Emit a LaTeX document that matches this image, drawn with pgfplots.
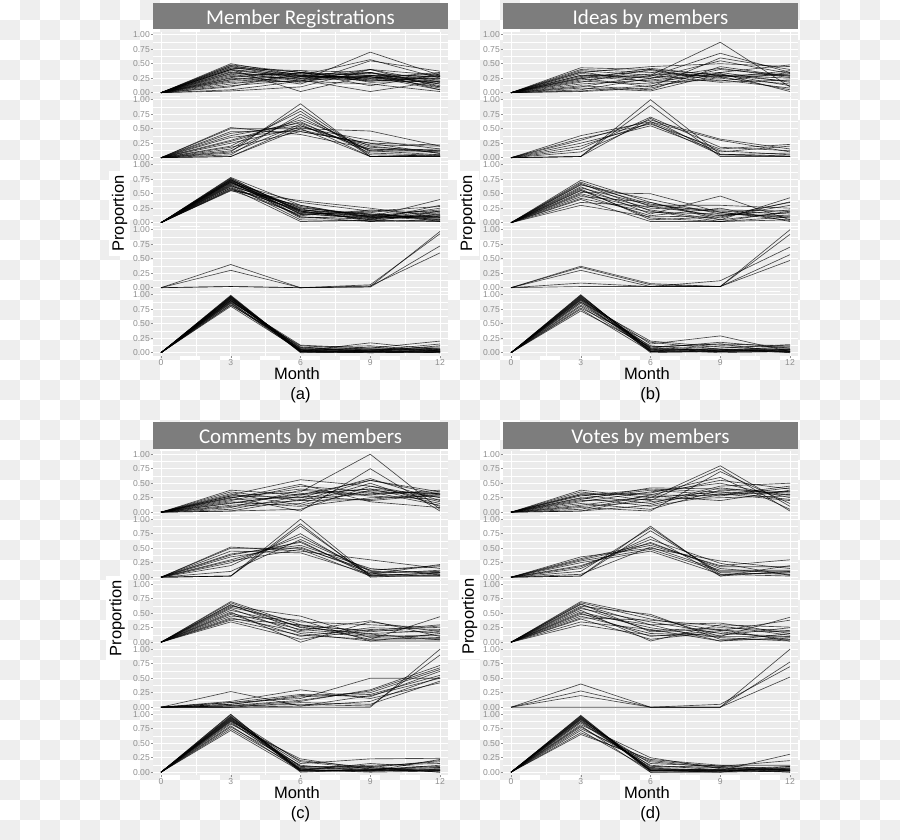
\documentclass[border=0pt]{standalone}
\usepackage{pgfplots}
\pgfplotsset{compat=1.18}
\usepackage{fontspec}
\setmainfont{Liberation Sans}
\newfontfamily\titlefont{Carlito}
\definecolor{panelbg}{HTML}{EBEBEB}
\definecolor{stripgray}{HTML}{7D7D7D}
\definecolor{tickgray}{HTML}{8F8F8F}
\definecolor{checkgray}{HTML}{EEEEEE}
\newcommand\Ln[4]{\addplot coordinates {(0,0) (3,#1) (6,#2) (9,#3) (12,#4)};}
\newcommand\lab{\fontsize{16.5}{18}\selectfont}
\pgfplotsset{
  sub/.style={
    scale only axis, width=295pt, height=63.8pt,
    xmin=-0.344, xmax=12.344, ymin=-0.05, ymax=1.05,
    anchor=south west,
    axis background/.style={fill=panelbg},
    axis line style={draw=none},
    xtick={0,3,6,9,12}, minor xtick={1.5,4.5,7.5,10.5},
    ytick={0,0.25,0.5,0.75,1}, minor ytick={0.125,0.375,0.625,0.875},
    yticklabels={0.00,0.25,0.50,0.75,1.00},
    xticklabels={},
    grid=both,
    major grid style={white, line width=0.7pt},
    minor grid style={white, line width=0.35pt},
    tick align=outside, major tick length=2.2pt, minor tick length=0pt,
    tick pos=left,
    tick style={color=tickgray, line width=0.5pt},
    xtick style={draw=none},
    ticklabel style={font=\fontsize{8.6}{9}\selectfont, text=tickgray},
    yticklabel style={inner xsep=0.8pt, inner ysep=0pt},
    cycle list={{black}},
    every axis plot/.append style={black, opacity=0.7, line width=0.65pt, mark=none},
  },
  bot/.style={
    xticklabels={0,3,6,9,12},
    xtick style={draw=tickgray},
    xticklabel style={inner ysep=0.5pt, yshift=-0.5pt},
    xlabel={Month},
    every axis x label/.style={at={(axis description cs:0.488,-0.28)}, anchor=center, font=\lab, inner sep=0pt},
    extra description/.code={\node[font=\lab, inner sep=0pt] at (axis description cs:0.5,-0.62) {(#1)};},
  },
  strip/.style={
    title={\smash{\raisebox{-8.2pt}{#1}}},
    every axis title/.style={at={(axis description cs:0.5,1)}, anchor=south, yshift=2.3pt,
      fill=stripgray, text=white, minimum width=295pt, minimum height=26.5pt, inner sep=0pt,
      font=\titlefont\fontsize{21}{23}\selectfont},
  },
  ylab/.style 2 args={
    ylabel={Proportion},
    every axis y label/.style={at={(axis description cs:#1,#2)}, anchor=center, rotate=90,
      font=\lab, fill=white, inner xsep=4pt, inner ysep=3pt},
  },
}
\begin{document}
\begin{tikzpicture}
\path[use as bounding box] (0,0) rectangle (900pt,-840pt);
\foreach \j in {0,...,41}{
  \foreach \i in {0,...,44}{
    \pgfmathtruncatemacro\p{mod(\i+\j,2)}
    \ifnum\p=1 \fill[checkgray] (\i*20pt,-\j*20pt) rectangle ++(20pt,-20pt);\fi
  }
}
% ================= (a) Member Registrations =================
\begin{axis}[sub, strip={Member Registrations}, at={(153pt,-95.6pt)}]
\Ln{.50}{.30}{.25}{.20}
\Ln{.48}{.35}{.30}{.15}
\Ln{.45}{.25}{.28}{.10}
\Ln{.42}{.38}{.35}{.12}
\Ln{.40}{.30}{.20}{.25}
\Ln{.40}{.02}{.30}{.28}
\Ln{.38}{.28}{.40}{.30}
\Ln{.36}{.22}{.25}{.35}
\Ln{.35}{.20}{.70}{.30}
\Ln{.33}{.30}{.57}{.25}
\Ln{.32}{.15}{.55}{.37}
\Ln{.30}{.33}{.30}{.08}
\Ln{.28}{.25}{.22}{.30}
\Ln{.26}{.38}{.18}{.20}
\Ln{.25}{.18}{.35}{.15}
\Ln{.23}{.28}{.28}{.05}
\Ln{.22}{.35}{.12}{.32}
\Ln{.20}{.25}{.30}{.22}
\Ln{.18}{.20}{.40}{.10}
\Ln{.15}{.30}{.25}{.33}
\Ln{.12}{.22}{.02}{.20}
\Ln{.10}{.35}{.20}{.28}
\Ln{.05}{.20}{.15}{.02}
\Ln{.03}{.10}{.40}{.18}
\Ln{.40}{.25}{.35}{.05}
\Ln{.45}{.35}{.22}{.18}
\Ln{.47}{.28}{.26}{.24}
\Ln{.43}{.32}{.33}{.27}
\end{axis}
\begin{axis}[sub, at={(153pt,-160.6pt)}]
\Ln{.50}{.50}{.46}{.20}
\Ln{.45}{.45}{.25}{.22}
\Ln{.42}{.55}{.15}{.10}
\Ln{.38}{.60}{.12}{.05}
\Ln{.30}{.65}{.20}{.08}
\Ln{.25}{.52}{.30}{.15}
\Ln{.20}{.80}{.02}{.02}
\Ln{.15}{.85}{.05}{.03}
\Ln{.10}{.93}{.02}{.05}
\Ln{.05}{.75}{.10}{.10}
\Ln{.02}{.55}{.18}{.12}
\Ln{.02}{.50}{.02}{.03}
\Ln{.52}{.40}{.15}{.12}
\Ln{.35}{.48}{.22}{.20}
\Ln{.28}{.62}{.08}{.04}
\Ln{.18}{.45}{.25}{.07}
\Ln{.12}{.70}{.12}{.15}
\Ln{.08}{.58}{.02}{.02}
\end{axis}
\begin{axis}[sub, ylab={-0.1136}{0.19}, at={(153pt,-225.6pt)}]
\Ln{.78}{.30}{.10}{.40}
\Ln{.76}{.20}{.05}{.30}
\Ln{.74}{.15}{.08}{.20}
\Ln{.72}{.25}{.15}{.10}
\Ln{.70}{.10}{.02}{.05}
\Ln{.68}{.35}{.20}{.15}
\Ln{.66}{.18}{.12}{.22}
\Ln{.65}{.05}{.03}{.02}
\Ln{.63}{.28}{.10}{.08}
\Ln{.62}{.12}{.22}{.18}
\Ln{.60}{.20}{.05}{.12}
\Ln{.58}{.22}{.15}{.05}
\Ln{.57}{.30}{.08}{.25}
\Ln{.55}{.38}{.25}{.10}
\Ln{.60}{.02}{.04}{.03}
\Ln{.70}{.15}{.18}{.02}
\Ln{.75}{.10}{.06}{.15}
\Ln{.64}{.24}{.02}{.20}
\Ln{.72}{.08}{.12}{.06}
\Ln{.56}{.14}{.20}{.28}
\Ln{.77}{.18}{.09}{.12}
\Ln{.69}{.22}{.14}{.08}
\Ln{.73}{.20}{.10}{.10}
\Ln{.71}{.16}{.07}{.14}
\Ln{.67}{.26}{.13}{.09}
\Ln{.74}{.22}{.11}{.04}
\end{axis}
\begin{axis}[sub, at={(153pt,-290.6pt)}]
\Ln{.40}{.00}{.05}{.93}
\Ln{.30}{.00}{.03}{.60}
\Ln{.02}{.00}{.02}{.97}
\Ln{.02}{.00}{.01}{.72}
\end{axis}
\begin{axis}[sub, bot=a, at={(153pt,-355.6pt)}]
\Ln{.98}{.02}{.02}{.05}
\Ln{.96}{.05}{.03}{.02}
\Ln{.95}{.00}{.01}{.03}
\Ln{.93}{.08}{.05}{.10}
\Ln{.92}{.03}{.17}{.05}
\Ln{.90}{.10}{.02}{.00}
\Ln{.88}{.13}{.08}{.20}
\Ln{.86}{.05}{.04}{.15}
\Ln{.85}{.02}{.10}{.02}
\Ln{.83}{.07}{.03}{.08}
\Ln{.82}{.12}{.06}{.04}
\Ln{.80}{.04}{.02}{.12}
\Ln{.97}{.01}{.00}{.01}
\Ln{.94}{.06}{.07}{.06}
\Ln{.91}{.02}{.04}{.00}
\Ln{.89}{.09}{.12}{.03}
\Ln{.99}{.03}{.01}{.02}
\Ln{.97}{.04}{.02}{.04}
\Ln{.95}{.01}{.03}{.06}
\Ln{.93}{.02}{.00}{.01}
\Ln{.90}{.06}{.05}{.07}
\Ln{.87}{.03}{.02}{.03}
\end{axis}
% ================= (b) Ideas by members =================
\begin{axis}[sub, strip={Ideas by members}, at={(503pt,-95.6pt)}]
\Ln{.43}{.40}{.30}{.20}
\Ln{.40}{.35}{.28}{.30}
\Ln{.38}{.30}{.87}{.10}
\Ln{.35}{.45}{.50}{.45}
\Ln{.33}{.25}{.35}{.48}
\Ln{.30}{.28}{.68}{.35}
\Ln{.28}{.20}{.30}{.25}
\Ln{.26}{.38}{.25}{.15}
\Ln{.25}{.10}{.60}{.40}
\Ln{.22}{.32}{.28}{.05}
\Ln{.20}{.15}{.40}{.30}
\Ln{.18}{.40}{.20}{.35}
\Ln{.15}{.22}{.33}{.02}
\Ln{.12}{.05}{.45}{.28}
\Ln{.10}{.30}{.18}{.22}
\Ln{.08}{.03}{.32}{.12}
\Ln{.05}{.25}{.55}{.33}
\Ln{.03}{.12}{.26}{.38}
\Ln{.02}{.08}{.35}{.18}
\Ln{.36}{.18}{.22}{.08}
\Ln{.24}{.42}{.30}{.32}
\Ln{.30}{.25}{.42}{.26}
\end{axis}
\begin{axis}[sub, at={(503pt,-160.6pt)}]
\Ln{.38}{.62}{.30}{.10}
\Ln{.33}{.58}{.15}{.23}
\Ln{.30}{.65}{.32}{.15}
\Ln{.25}{.55}{.10}{.20}
\Ln{.20}{.60}{.05}{.08}
\Ln{.02}{1.0}{.06}{.03}
\Ln{.02}{.90}{.02}{.02}
\Ln{.02}{.68}{.05}{.02}
\Ln{.10}{.62}{.12}{.05}
\Ln{.15}{.70}{.18}{.12}
\end{axis}
\begin{axis}[sub, ylab={-0.119}{0.19}, at={(503pt,-225.6pt)}]
\Ln{.73}{.35}{.05}{.43}
\Ln{.70}{.28}{.12}{.35}
\Ln{.68}{.20}{.02}{.20}
\Ln{.65}{.40}{.15}{.10}
\Ln{.62}{.15}{.46}{.05}
\Ln{.60}{.30}{.30}{.25}
\Ln{.58}{.05}{.10}{.30}
\Ln{.55}{.25}{.20}{.15}
\Ln{.52}{.50}{.18}{.08}
\Ln{.50}{.22}{.05}{.18}
\Ln{.48}{.12}{.25}{.02}
\Ln{.45}{.35}{.08}{.36}
\Ln{.42}{.18}{.15}{.12}
\Ln{.40}{.02}{.02}{.05}
\Ln{.35}{.28}{.22}{.20}
\Ln{.30}{.10}{.12}{.22}
\Ln{.66}{.32}{.18}{.04}
\Ln{.56}{.08}{.02}{.10}
\end{axis}
\begin{axis}[sub, at={(503pt,-290.6pt)}]
\Ln{.37}{.07}{.02}{.47}
\Ln{.35}{.05}{.02}{.57}
\Ln{.30}{.02}{.12}{.70}
\Ln{.08}{.02}{.02}{.92}
\Ln{.02}{.02}{.02}{1.0}
\end{axis}
\begin{axis}[sub, bot=b, at={(503pt,-355.6pt)}]
\Ln{1.0}{.02}{.05}{.10}
\Ln{.98}{.05}{.00}{.02}
\Ln{.96}{.00}{.02}{.05}
\Ln{.94}{.10}{.15}{.00}
\Ln{.92}{.15}{.29}{.02}
\Ln{.90}{.03}{.08}{.14}
\Ln{.87}{.20}{.10}{.05}
\Ln{.85}{.08}{.18}{.08}
\Ln{.82}{.12}{.03}{.03}
\Ln{.80}{.05}{.12}{.10}
\Ln{.77}{.18}{.06}{.00}
\Ln{.75}{.02}{.02}{.06}
\Ln{.72}{.10}{.15}{.12}
\Ln{.95}{.07}{.04}{.01}
\Ln{.99}{.03}{.02}{.04}
\Ln{.97}{.06}{.04}{.03}
\Ln{.93}{.04}{.06}{.05}
\Ln{.91}{.08}{.03}{.02}
\Ln{.88}{.02}{.05}{.07}
\end{axis}
% ================= (c) Comments by members =================
\begin{axis}[sub, strip={Comments by members}, at={(153pt,-515.1pt)}]
\Ln{.38}{.30}{.40}{.30}
\Ln{.35}{.20}{.55}{.35}
\Ln{.30}{.56}{.45}{.25}
\Ln{.28}{.35}{1.0}{.05}
\Ln{.26}{.02}{.75}{.02}
\Ln{.25}{.40}{.30}{.38}
\Ln{.22}{.25}{.58}{.20}
\Ln{.20}{.45}{.35}{.32}
\Ln{.18}{.10}{.25}{.28}
\Ln{.15}{.32}{.40}{.15}
\Ln{.12}{.20}{.22}{.33}
\Ln{.10}{.15}{.50}{.10}
\Ln{.08}{.38}{.28}{.22}
\Ln{.05}{.28}{.20}{.30}
\Ln{.02}{.22}{.32}{.35}
\Ln{.02}{.05}{.45}{.18}
\Ln{.32}{.12}{.38}{.26}
\Ln{.24}{.48}{.18}{.08}
\Ln{.16}{.30}{.55}{.31}
\Ln{.28}{.25}{.35}{.12}
\end{axis}
\begin{axis}[sub, at={(153pt,-580.1pt)}]
\Ln{.52}{.45}{.30}{.15}
\Ln{.50}{.50}{.12}{.20}
\Ln{.45}{.42}{.05}{.22}
\Ln{.40}{.55}{.15}{.05}
\Ln{.35}{.52}{.08}{.10}
\Ln{.30}{.62}{.02}{.02}
\Ln{.25}{.70}{.10}{.08}
\Ln{.20}{.75}{.05}{.03}
\Ln{.02}{1.0}{.02}{.02}
\Ln{.02}{.92}{.00}{.05}
\Ln{.02}{.88}{.03}{.07}
\Ln{.10}{.65}{.12}{.18}
\Ln{.28}{.48}{.02}{.08}
\Ln{.38}{.60}{.06}{.12}
\end{axis}
\begin{axis}[sub, ylab={-0.122}{0.42}, at={(153pt,-645.1pt)}]
\Ln{.70}{.30}{.05}{.44}
\Ln{.68}{.25}{.15}{.20}
\Ln{.65}{.20}{.37}{.10}
\Ln{.62}{.45}{.08}{.05}
\Ln{.60}{.35}{.30}{.25}
\Ln{.58}{.15}{.02}{.15}
\Ln{.55}{.28}{.20}{.30}
\Ln{.52}{.00}{.35}{.18}
\Ln{.50}{.22}{.12}{.08}
\Ln{.48}{.10}{.25}{.22}
\Ln{.45}{.38}{.02}{.02}
\Ln{.42}{.18}{.10}{.12}
\Ln{.40}{.30}{.18}{.28}
\Ln{.38}{.12}{.05}{.06}
\Ln{.35}{.05}{.22}{.16}
\Ln{.64}{.26}{.14}{.04}
\end{axis}
\begin{axis}[sub, at={(153pt,-710.1pt)}]
\Ln{.27}{.02}{.20}{.50}
\Ln{.10}{.30}{.15}{.42}
\Ln{.08}{.15}{.50}{.50}
\Ln{.05}{.20}{.25}{.65}
\Ln{.02}{.10}{.30}{.72}
\Ln{.00}{.00}{.00}{1.0}
\Ln{.02}{.05}{.02}{.90}
\Ln{.05}{.18}{.22}{.55}
\Ln{.03}{.12}{.28}{.68}
\Ln{.00}{.02}{.10}{.52}
\Ln{.08}{.22}{.18}{.62}
\Ln{.00}{.08}{.05}{.45}
\end{axis}
\begin{axis}[sub, bot=c, at={(153pt,-775.1pt)}]
\Ln{1.0}{.02}{.02}{.05}
\Ln{.97}{.05}{.00}{.02}
\Ln{.95}{.00}{.05}{.10}
\Ln{.92}{.10}{.10}{.00}
\Ln{.90}{.15}{.23}{.24}
\Ln{.88}{.20}{.08}{.20}
\Ln{.85}{.08}{.12}{.15}
\Ln{.83}{.23}{.05}{.03}
\Ln{.80}{.03}{.15}{.08}
\Ln{.78}{.12}{.02}{.22}
\Ln{.75}{.06}{.08}{.00}
\Ln{.72}{.02}{.04}{.12}
\Ln{.94}{.18}{.06}{.05}
\Ln{.87}{.04}{.10}{.18}
\Ln{.99}{.03}{.03}{.02}
\Ln{.96}{.02}{.02}{.04}
\Ln{.93}{.06}{.04}{.06}
\Ln{.91}{.04}{.02}{.03}
\Ln{.89}{.10}{.05}{.08}
\end{axis}
% ================= (d) Votes by members =================
\begin{axis}[sub, strip={Votes by members}, at={(503pt,-515.1pt)}]
\Ln{.38}{.25}{.80}{.10}
\Ln{.35}{.20}{.75}{.02}
\Ln{.32}{.30}{.55}{.40}
\Ln{.30}{.15}{.45}{.50}
\Ln{.28}{.40}{.35}{.30}
\Ln{.25}{.10}{.30}{.45}
\Ln{.22}{.42}{.40}{.35}
\Ln{.20}{.22}{.25}{.28}
\Ln{.18}{.35}{.50}{.25}
\Ln{.15}{.05}{.38}{.33}
\Ln{.12}{.28}{.20}{.38}
\Ln{.10}{.18}{.32}{.20}
\Ln{.08}{.02}{.70}{.15}
\Ln{.05}{.30}{.28}{.42}
\Ln{.02}{.12}{.42}{.30}
\Ln{.02}{.25}{.35}{.22}
\Ln{.30}{.33}{.60}{.05}
\Ln{.24}{.38}{.30}{.36}
\end{axis}
\begin{axis}[sub, at={(503pt,-580.1pt)}]
\Ln{.35}{.50}{.28}{.15}
\Ln{.30}{.55}{.20}{.30}
\Ln{.28}{.48}{.10}{.10}
\Ln{.25}{.45}{.05}{.08}
\Ln{.20}{.60}{.15}{.05}
\Ln{.15}{.70}{.02}{.20}
\Ln{.10}{.85}{.05}{.02}
\Ln{.02}{.88}{.02}{.10}
\Ln{.02}{.80}{.08}{.05}
\Ln{.05}{.52}{.12}{.12}
\Ln{.32}{.58}{.18}{.18}
\Ln{.18}{.65}{.24}{.03}
\end{axis}
\begin{axis}[sub, ylab={-0.1136}{0.445}, at={(503pt,-645.1pt)}]
\Ln{.70}{.45}{.10}{.43}
\Ln{.68}{.40}{.20}{.38}
\Ln{.65}{.30}{.33}{.15}
\Ln{.62}{.48}{.05}{.05}
\Ln{.60}{.20}{.25}{.20}
\Ln{.58}{.35}{.15}{.10}
\Ln{.55}{.02}{.30}{.26}
\Ln{.52}{.25}{.08}{.02}
\Ln{.50}{.10}{.20}{.18}
\Ln{.48}{.30}{.02}{.08}
\Ln{.45}{.15}{.12}{.25}
\Ln{.42}{.38}{.28}{.12}
\Ln{.40}{.05}{.18}{.05}
\Ln{.35}{.22}{.02}{.15}
\Ln{.30}{.12}{.10}{.10}
\Ln{.66}{.18}{.22}{.02}
\end{axis}
\begin{axis}[sub, at={(503pt,-710.1pt)}]
\Ln{.40}{.00}{.00}{.52}
\Ln{.28}{.00}{.05}{.70}
\Ln{.20}{.00}{.00}{.78}
\Ln{.00}{.00}{.00}{1.0}
\end{axis}
\begin{axis}[sub, bot=d, at={(503pt,-775.1pt)}]
\Ln{.98}{.02}{.02}{.05}
\Ln{.96}{.00}{.00}{.02}
\Ln{.94}{.05}{.05}{.10}
\Ln{.92}{.10}{.08}{.00}
\Ln{.90}{.03}{.03}{.31}
\Ln{.88}{.15}{.10}{.20}
\Ln{.85}{.08}{.12}{.12}
\Ln{.82}{.25}{.06}{.03}
\Ln{.80}{.00}{.02}{.08}
\Ln{.78}{.12}{.04}{.00}
\Ln{.75}{.20}{.10}{.06}
\Ln{.72}{.04}{.00}{.10}
\Ln{.68}{.18}{.08}{.04}
\Ln{.65}{.22}{.12}{.02}
\Ln{.97}{.03}{.01}{.03}
\Ln{.95}{.02}{.04}{.05}
\Ln{.93}{.06}{.02}{.02}
\Ln{.91}{.04}{.05}{.06}
\Ln{.87}{.07}{.03}{.04}
\end{axis}
\end{tikzpicture}
\end{document}
